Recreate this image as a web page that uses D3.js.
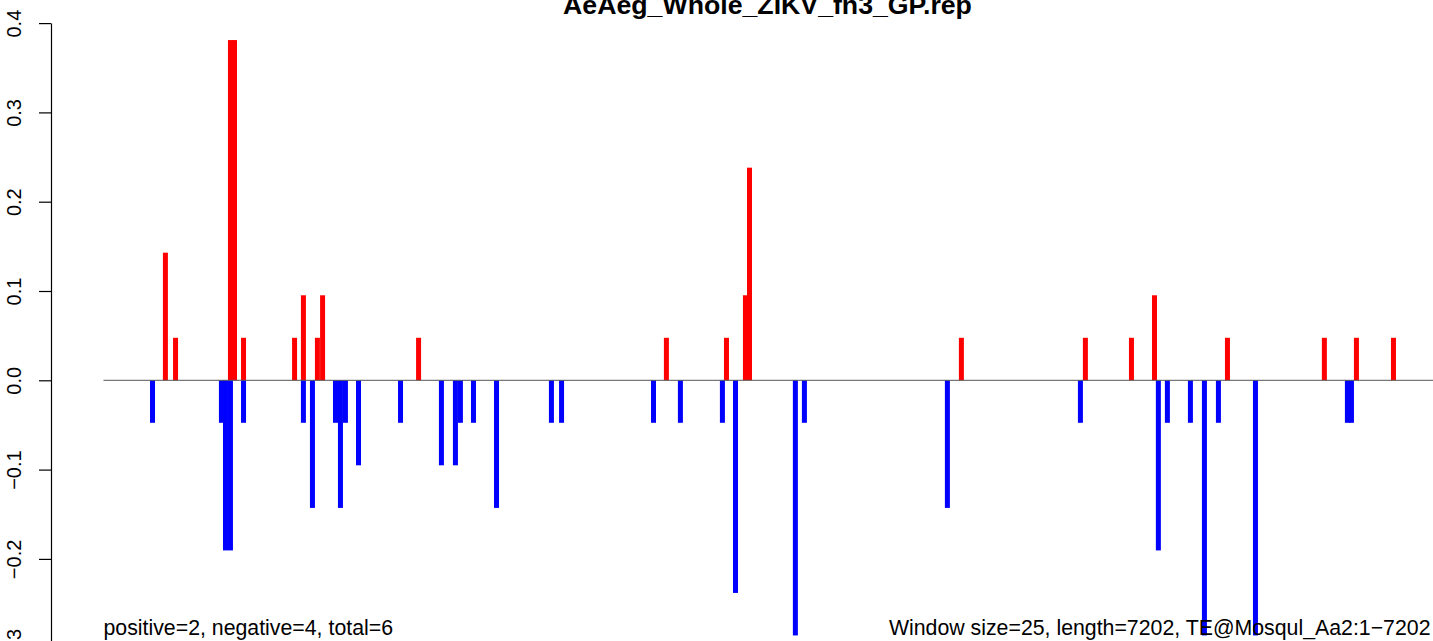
<!DOCTYPE html>
<html>
<head>
<meta charset="utf-8">
<script src="https://cdn.jsdelivr.net/npm/d3@7"></script>
<style>
  html, body { margin: 0; padding: 0; background: #fff; }
  svg { display: block; font-family: "Liberation Sans", Arial, Helvetica, sans-serif; }
</style>
</head>
<body>
<svg id="chart" width="1433" height="641"></svg>
<script>
// ---- data ----
const titleText = "AeAeg_Whole_ZIKV_fn3_GP.rep";
const seqLength = 7202;
const leftNote = "positive=2, negative=4, total=6";
const rightNote = "Window size=25, length=7202, TE@Mosqul_Aa2:1\u22127202";
const yTicks = [-0.3, -0.2, -0.1, 0.0, 0.1, 0.2, 0.3, 0.4];

// positive (red) windows: position (bp) and value
const posX = [336, 391, 689, 711, 760, 1037, 1085, 1161, 1189, 1710, 3055, 3381, 3484, 3506, 4656, 5329, 5579, 5704, 6100, 6626, 6800, 7001];
const posY = [0.1429, 0.0476, 0.3810, 0.3810, 0.0476, 0.0476, 0.0952, 0.0476, 0.0952, 0.0476, 0.0476, 0.0476, 0.0952, 0.2381, 0.0476, 0.0476, 0.0476, 0.0952, 0.0476, 0.0476, 0.0476, 0.0476];

// negative (blue) windows
const negX = [266, 640, 662, 689, 760, 1085, 1134, 1259, 1286, 1313, 1384, 1612, 1834, 1910, 1937, 2008, 2133, 2431, 2486, 2985, 3131, 3359, 3430, 3755, 3804, 4580, 5302, 5725, 5774, 5899, 5975, 6051, 6252, 6751, 6773];
const negY = [-0.0476, -0.0476, -0.1905, -0.1905, -0.0476, -0.0476, -0.1429, -0.0476, -0.1429, -0.0476, -0.0952, -0.0476, -0.0952, -0.0952, -0.0476, -0.0476, -0.1429, -0.0476, -0.0476, -0.0476, -0.0476, -0.0476, -0.2381, -0.2857, -0.0476, -0.1429, -0.0476, -0.1905, -0.0476, -0.0476, -0.2857, -0.0476, -0.2857, -0.0476, -0.0476];

// ---- layout ----
const W = 1433, H = 641;
const svg = d3.select("#chart");
const x = d3.scaleLinear().domain([0, seqLength]).range([103.5, 1430.5]);
const y = d3.scaleLinear().domain([-0.3, 0.4]).range([648.2, 23.1]);
const barW = 5;

const pos = posX.map((p, i) => ({ p, v: posY[i] }));
const neg = negX.map((p, i) => ({ p, v: negY[i] }));

svg.append("g").selectAll("rect").data(pos).join("rect")
  .attr("x", d => x(d.p) - barW / 2)
  .attr("width", barW)
  .attr("y", d => y(d.v))
  .attr("height", d => y(0) - y(d.v))
  .attr("fill", "#ff0000");

svg.append("g").selectAll("rect").data(neg).join("rect")
  .attr("x", d => x(d.p) - barW / 2)
  .attr("width", barW)
  .attr("y", y(0))
  .attr("height", d => y(d.v) - y(0))
  .attr("fill", "#0000ff");

// zero line
svg.append("line")
  .attr("x1", x(0)).attr("x2", W)
  .attr("y1", y(0)).attr("y2", y(0))
  .attr("stroke", "#555").attr("stroke-width", 1);

// y axis
const axis = d3.axisLeft(y).tickValues(yTicks).tickFormat(d3.format(".1f")).tickSizeOuter(0).tickSizeInner(12);
const gAxis = svg.append("g").attr("transform", "translate(51,0)").call(axis);
gAxis.select(".domain").attr("stroke", "#000").attr("stroke-width", 1.2);
gAxis.selectAll(".tick line").attr("stroke", "#000").attr("stroke-width", 1.2);
gAxis.selectAll(".tick text")
  .attr("x", null).attr("dy", null)
  .attr("transform", "translate(-30,0) rotate(-90)")
  .attr("text-anchor", "middle")
  .attr("fill", "#000")
  .style("font-size", "20px")
  .style("font-family", "'Liberation Sans', Arial, sans-serif");

// title
svg.append("text")
  .attr("x", 767.5).attr("y", 14)
  .attr("text-anchor", "middle")
  .style("font-size", "26.7px").style("font-weight", "bold")
  .text(titleText);

// bottom notes
svg.append("text")
  .attr("x", x(0)).attr("y", 635)
  .attr("text-anchor", "start")
  .style("font-size", "21.3px")
  .text(leftNote);

svg.append("text")
  .attr("x", x(seqLength)).attr("y", 635)
  .attr("text-anchor", "end")
  .style("font-size", "21.3px")
  .text(rightNote);
</script>
</body>
</html>
